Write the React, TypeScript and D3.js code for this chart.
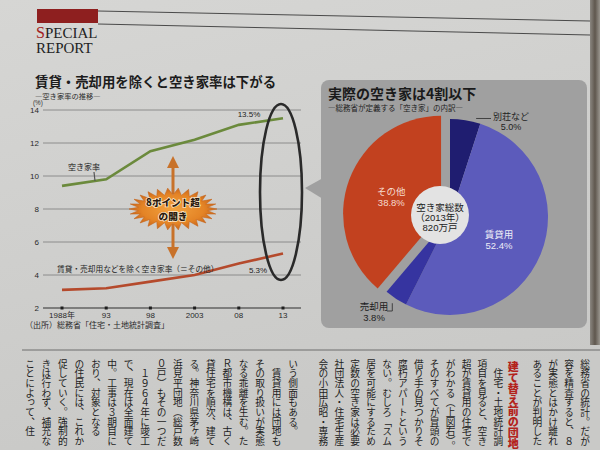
import React from "react";
import * as d3 from "d3";

// ---- Line chart data ----
const years = [1988, 1993, 1998, 2003, 2008, 2013];
const yearLabels = ["1988年", "93", "98", "2003", "08", "13"];
const vacancyRate = [9.4, 9.8, 11.5, 12.2, 13.1, 13.5];
const otherRate = [3.1, 3.2, 3.6, 4.0, 4.7, 5.3];
const yTicks = [2, 4, 6, 8, 10, 12, 14];

// ---- Pie chart data ----
const pieLabels = ["別荘など", "賃貸用", "売却用", "その他"];
const pieValues = [5.0, 52.4, 3.8, 38.8];
const pieColors = ["#1f1d70", "url(#blueGrad)", "#3634a0", "#c2411f"];

// ---- Body text columns (vertical) ----
const rightColumns = [
  "総務省の統計。だが",
  "容を精査すると、８",
  "が実態とはかけ離れ",
  "あることが判明した",
  "#建て替え前の団地",
  "　住宅・土地統計調",
  "項目を見ると、空き",
  "超が賃貸用の住宅で",
  "がわかる（上図右）。",
  "そのすべてが冒頭の",
  "借り手の見つかりそ",
  "腐朽アパートという",
  "ない。むしろ「スム",
  "居を可能にするため",
  "定数の空き家は必要",
  "社団法人・住宅生産",
  "会の小田広昭・専務",
];
const leftColumns = [
  "いう側面もある。",
  "　賃貸用には団地も",
  "その取り扱いが実態",
  "なる乖離を生む。た",
  "Ｒ都市機構は、古く",
  "貸住宅を順次、建て",
  "る。神奈川県茅ヶ崎",
  "浜見平団地（総戸数",
  "０戸）もその一つだ",
  "　１９６４年に竣工",
  "で、現在は全面建て",
  "中。工事は３期目に",
  "おり、対象となる",
  "の住民には、これか",
  "促していく。強制的",
  "きは行わず、補充な",
  "ことによって、住",
];

const sans = '"Liberation Sans", "Noto Sans CJK JP", sans-serif';
const jp = '"Noto Sans CJK JP", sans-serif';

export default function App() {
  // line chart scales
  const x = d3.scaleLinear().domain([1988, 2013]).range([62, 283]);
  const y = d3.scaleLinear().domain([2, 14]).range([308, 110]);
  const line = d3
    .line<number>()
    .x((_, i) => x(years[i]))
    .y((d) => y(d));

  // pie
  const pcx = 450;
  const pcy = 217;
  const R = 98;
  const arcs = d3.pie<number>().sort(null).value((d) => d)(pieValues);
  const arc = d3.arc<d3.PieArcDatum<number>>().innerRadius(0).outerRadius(R);
  const explode = [0, 0, 0, 9.5];
  const mid = (a: d3.PieArcDatum<number>) => (a.startAngle + a.endAngle) / 2;
  const polar = (ang: number, r: number, ox = pcx, oy = pcy) => [
    ox + r * Math.sin(ang),
    oy - r * Math.cos(ang),
  ];

  const redA = arcs[3];
  const redOff = polar(mid(redA), explode[3], 0, 0);
  const otherLbl = polar(mid(redA), 53, pcx + redOff[0], pcy + redOff[1]);
  const rentLbl = polar(mid(arcs[1]), 53);
  const villaPt = polar(arcs[0].endAngle - 0.05, R + 2);
  const salePt = polar(mid(arcs[2]), R + 3);

  // burst
  const bcx = 173;
  const bcy = 209;
  const nSp = 26;
  const burstPts = d3.range(nSp * 2).map((i) => {
    const a = (i * Math.PI) / nSp;
    const outer = i % 2 === 0;
    const rx = outer ? 44 : 35;
    const ry = outer ? 21 : 14;
    return [bcx + rx * Math.cos(a), bcy + ry * Math.sin(a)] as [number, number];
  });
  const burstPath = d3.line()(burstPts) + "Z";

  // body columns positions
  const rightPos: { x: number; t: string; h: boolean }[] = [];
  let cx = 585;
  rightColumns.forEach((t, i) => {
    const h = t.startsWith("#");
    if (i > 0) {
      const prevH = rightColumns[i - 1].startsWith("#");
      cx -= h ? 24 : prevH ? 15 : 15.9;
    }
    rightPos.push({ x: cx, t: h ? t.slice(1) : t, h });
  });
  const leftX = d3
    .scaleLinear()
    .domain([0, leftColumns.length - 1])
    .range([293, 30]);

  const burstText = {
    textAnchor: "middle" as const,
    fontFamily: jp,
    fontWeight: 900,
    fontSize: 9.6,
    fill: "#2b1a0e",
    stroke: "#fbe6c8",
    strokeWidth: 1.6,
    paintOrder: "stroke",
  };

  return (
    <svg
      width={600}
      height={450}
      viewBox="0 0 600 450"
      style={{ position: "absolute", left: 0, top: 0 }}
    >
      <defs>
        <linearGradient id="paper" x1="0" y1="0" x2="0.3" y2="1">
          <stop offset="0" stopColor="#d6d6d4" />
          <stop offset="1" stopColor="#c9c9c7" />
        </linearGradient>
        <radialGradient id="blueGrad" cx={pcx} cy={pcy} r={R} gradientUnits="userSpaceOnUse">
          <stop offset="0" stopColor="#4846a6" />
          <stop offset="1" stopColor="#5c5bbb" />
        </radialGradient>
        <radialGradient id="burstGrad" cx="0.5" cy="0.5" r="0.5">
          <stop offset="0" stopColor="#f2a23e" />
          <stop offset="0.7" stopColor="#e48426" />
          <stop offset="1" stopColor="#c9661a" />
        </radialGradient>
        <linearGradient id="edge" x1="0" y1="0" x2="1" y2="0">
          <stop offset="0" stopColor="#8a8680" />
          <stop offset="0.5" stopColor="#5f574e" />
          <stop offset="1" stopColor="#9a968f" />
        </linearGradient>
      </defs>

      <rect x={0} y={0} width={600} height={450} fill="url(#paper)" />
      <rect x={590} y={0} width={10} height={345} fill="url(#edge)" />

      {/* Header */}
      <rect x={37} y={9} width={61} height={14} fill="#8e1f1f" />
      <line x1={98} y1={11} x2={590} y2={21} stroke="#3a3a3a" strokeWidth={0.9} />
      <line x1={98} y1={24} x2={590} y2={35} stroke="#3a3a3a" strokeWidth={0.9} />
      <text x={36} y={38} fontFamily='"Liberation Serif", serif' fontSize={15} fill="#222">
        <tspan fill="#a32222" fontSize={16}>S</tspan>PECIAL
      </text>
      <text x={36} y={53} fontFamily='"Liberation Serif", serif' fontSize={15} fill="#222">
        REPORT
      </text>

      {/* Left chart titles */}
      <text x={35} y={87} fontFamily={jp} fontWeight={700} fontSize={13.4} fill="#1c1c1c">
        賃貸・売却用を除くと空き家率は下がる
      </text>
      <text x={35} y={98.5} fontFamily={jp} fontSize={7.3} fill="#2a2a2a">
        ―空き家率の推移―
      </text>
      <text x={33} y={105} fontFamily={sans} fontSize={6.3} fill="#333">
        (%)
      </text>

      {/* Grid */}
      {yTicks.map((t) => (
        <g key={t}>
          <line
            x1={43}
            x2={301}
            y1={y(t)}
            y2={y(t)}
            stroke={t === 2 ? "#2e2e2e" : "#7c7c7c"}
            strokeWidth={t === 2 ? 1.2 : 0.8}
          />
          <text
            x={39}
            y={y(t)}
            dy="0.35em"
            textAnchor="end"
            fontFamily={sans}
            fontSize={8}
            fill="#2a2a2a"
          >
            {t}
          </text>
        </g>
      ))}
      {years.map((yr, i) => (
        <g key={yr}>
          <rect x={x(yr) - 1.5} y={y(2) - 1.5} width={3} height={3} fill="#1e1e1e" />
          <text
            x={x(yr)}
            y={y(2) + 10}
            textAnchor="middle"
            fontFamily={sans}
            fontSize={8}
            fill="#2a2a2a"
          >
            {yearLabels[i]}
          </text>
        </g>
      ))}
      <text x={25} y={328} fontFamily={jp} fontSize={8} fill="#2a2a2a">
        （出所）総務省「住宅・土地統計調査」
      </text>

      {/* Lines */}
      <path d={line(vacancyRate) || ""} fill="none" stroke="#6b8a3c" strokeWidth={2.6} />
      <path d={line(otherRate) || ""} fill="none" stroke="#b54a2c" strokeWidth={2.6} />

      <text x={68} y={170} fontFamily={jp} fontSize={8} fill="#222">
        空き家率
      </text>
      <line x1={94} y1={172} x2={95} y2={181} stroke="#555" strokeWidth={1.2} />
      <text
        x={x(2013) - 34}
        y={y(vacancyRate[5]) - 1}
        textAnchor="middle"
        fontFamily={sans}
        fontSize={8}
        fill="#222"
      >
        {vacancyRate[5].toFixed(1)}%
      </text>
      <text x={57} y={272} fontFamily={jp} fontSize={7.7} fill="#222">
        賃貸・売却用などを除く空き家率（＝その他）
      </text>
      <text
        x={x(2013) - 25}
        y={y(otherRate[5]) + 19}
        textAnchor="middle"
        fontFamily={sans}
        fontSize={8}
        fill="#222"
      >
        {otherRate[5].toFixed(1)}%
      </text>

      {/* Arrows + burst */}
      <line x1={bcx} y1={194} x2={bcx} y2={166} stroke="#c8722a" strokeWidth={3} />
      <polygon points={`${bcx},156 ${bcx - 6},168 ${bcx + 6},168`} fill="#c8722a" />
      <line x1={bcx} y1={224} x2={bcx} y2={250} stroke="#c8722a" strokeWidth={3} />
      <polygon points={`${bcx},259 ${bcx - 6},247 ${bcx + 6},247`} fill="#c8722a" />
      <path d={burstPath} fill="url(#burstGrad)" stroke="#c6661c" strokeWidth={0.6} />
      <text x={bcx} y={bcy - 3} {...burstText}>
        8ポイント超
      </text>
      <text x={bcx} y={bcy + 11} {...burstText}>
        の開き
      </text>

      {/* Ellipse highlight */}
      <ellipse cx={281} cy={192} rx={21} ry={88} fill="none" stroke="#2a2a2a" strokeWidth={2.6} />

      {/* Pie panel */}
      <polygon points="305,188 323,178 323,199" fill="#a0a0a0" />
      <rect x={321} y={80} width={266} height={248} rx={8} fill="#a0a0a0" />
      <text x={328} y={98.5} fontFamily={jp} fontWeight={700} fontSize={14} fill="#1a1a1a">
        実際の空き家は4割以下
      </text>
      <text x={328} y={111} fontFamily={jp} fontSize={7.5} fill="#222">
        ―総務省が定義する「空き家」の内訳―
      </text>

      {arcs.map((a, i) => {
        const off = polar(mid(a), explode[i], 0, 0);
        return (
          <path
            key={pieLabels[i]}
            d={arc(a) || ""}
            transform={`translate(${pcx + off[0]},${pcy + off[1]})`}
            fill={pieColors[i]}
          />
        );
      })}

      <circle cx={440} cy={215} r={29} fill="#e3e3e3" />
      {["空き家総数", "（2013年）", "820万戸"].map((t, i) => (
        <text
          key={t}
          x={440}
          y={211 + i * 10}
          textAnchor="middle"
          fontFamily={sans}
          fontSize={9.5}
          fill="#222"
        >
          {t}
        </text>
      ))}

      {/* Pie labels */}
      <text x={otherLbl[0]} y={otherLbl[1]} textAnchor="middle" fontFamily={sans} fontSize={9.5} fill="#f6dccf">
        {pieLabels[3]}
      </text>
      <text x={otherLbl[0]} y={otherLbl[1] + 10.5} textAnchor="middle" fontFamily={sans} fontSize={9.5} fill="#f6dccf">
        {pieValues[3].toFixed(1)}%
      </text>
      <text x={rentLbl[0]} y={rentLbl[1] + 1} textAnchor="middle" fontFamily={sans} fontSize={9.5} fill="#ececf6">
        {pieLabels[1]}
      </text>
      <text x={rentLbl[0]} y={rentLbl[1] + 11.5} textAnchor="middle" fontFamily={sans} fontSize={9.5} fill="#ececf6">
        {pieValues[1].toFixed(1)}%
      </text>

      <line x1={villaPt[0]} y1={villaPt[1] - 2} x2={491} y2={118.5} stroke="#2a2a2a" strokeWidth={0.8} />
      <text x={511} y={119.5} textAnchor="middle" fontFamily={sans} fontSize={9} fill="#1e1e1e">
        {pieLabels[0]}
      </text>
      <text x={511} y={130} textAnchor="middle" fontFamily={sans} fontSize={9} fill="#1e1e1e">
        {pieValues[0].toFixed(1)}%
      </text>

      <polyline
        points={`${salePt[0] - 2},${salePt[1] + 2} ${salePt[0] - 2},311 387,311`}
        fill="none"
        stroke="#2a2a2a"
        strokeWidth={0.8}
      />
      <text x={374} y={309.5} textAnchor="middle" fontFamily={sans} fontSize={9.5} fill="#1e1e1e">
        {pieLabels[2]}
      </text>
      <text x={374} y={320.5} textAnchor="middle" fontFamily={sans} fontSize={9.5} fill="#1e1e1e">
        {pieValues[2].toFixed(1)}%
      </text>

      {/* Body text */}
      <line x1={22} y1={350} x2={600} y2={350} stroke="#555" strokeWidth={0.8} />
      {rightPos.map((c, i) => (
        <text
          key={"r" + i}
          x={c.x}
          y={c.h ? 361 : 359}
          fontFamily={jp}
          fontSize={c.h ? 11 : 9.7}
          fontWeight={c.h ? 900 : 400}
          fill={c.h ? "#b3231c" : "#1e1e1e"}
          style={{ writingMode: "vertical-rl", whiteSpace: "pre" }}
        >
          {c.t}
        </text>
      ))}
      {leftColumns.map((t, i) => (
        <text
          key={"l" + i}
          x={leftX(i)}
          y={359}
          fontFamily={jp}
          fontSize={9.7}
          fill="#1e1e1e"
          style={{ writingMode: "vertical-rl", whiteSpace: "pre" }}
        >
          {t}
        </text>
      ))}
    </svg>
  );
}
